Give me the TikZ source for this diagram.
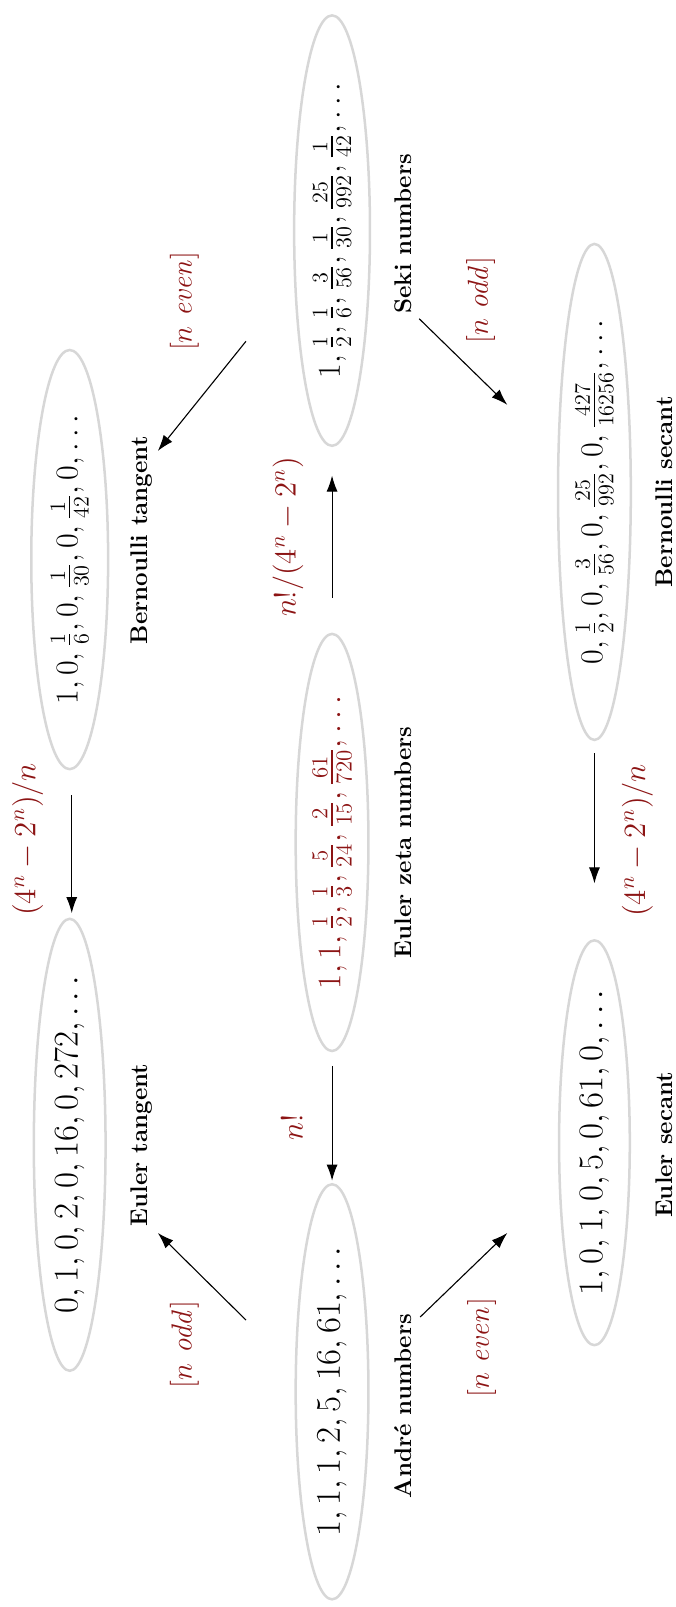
\documentclass[tikz,border=0pt]{standalone}
\usepackage{amsmath}
\usetikzlibrary{arrows.meta}
\definecolor{lblred}{RGB}{140,20,20}
\definecolor{ellgray}{RGB}{215,215,215}
\begin{document}
\begin{tikzpicture}[x=0.51pt,y=-0.51pt,
  seqtxt/.style={rotate=90, inner sep=0pt, font=\LARGE},
  ell/.style={draw=ellgray, line width=1.25pt},
  seqname/.style={rotate=90, inner sep=0pt, font=\large\bfseries},
  elab/.style={rotate=90, inner sep=0pt, text=lblred, font=\Large},
  conn/.style={-{Latex[length=8pt,width=5.5pt]}, line width=0.55pt}]
\useasboundingbox (0,0) rectangle (659,1568);

% sequences
\node[seqtxt, scale=0.92] (BT) at (68,546) {$1,0,\frac16,0,\frac1{30},0,\frac1{42},0,\ldots$};
\draw[ell] (BT.center) ellipse [x radius=37.5, y radius=204.5];
\node[seqtxt] (ET) at (68,1117) {$0,1,0,2,0,16,0,272,\ldots$};
\draw[ell] (ET.center) ellipse [x radius=35, y radius=220.5];
\node[seqtxt, scale=0.92] (SK) at (324,225) {$1,\frac12,\frac16,\frac3{56},\frac1{30},\frac{25}{992},\frac1{42},\ldots$};
\draw[ell] (SK.center) ellipse [x radius=37, y radius=210];
\node[seqtxt, scale=0.95, text=lblred] (EZ) at (324,822) {$1,1,\frac12,\frac13,\frac5{24},\frac2{15},\frac{61}{720},\ldots$};
\draw[ell] (EZ.center) ellipse [x radius=35.5, y radius=203.5];
\node[seqtxt] (AN) at (324,1358) {$1,1,1,2,5,16,61,\ldots$};
\draw[ell] (AN.center) ellipse [x radius=35.5, y radius=202.5];
\node[seqtxt, scale=0.92] (BS) at (580,480) {$0,\frac12,0,\frac3{56},0,\frac{25}{992},0,\frac{427}{16256},\ldots$};
\draw[ell] (BS.center) ellipse [x radius=35.5, y radius=242];
\node[seqtxt] (ES) at (580,1115) {$1,0,1,0,5,0,61,0,\ldots$};
\draw[ell] (ES.center) ellipse [x radius=34.5, y radius=197.5];

% names
\node[seqname] (nBT) at (138,527) {Bernoulli tangent};
\node[seqname] (nET) at (138,1117) {Euler tangent};
\node[seqname] (nSK) at (393,228) {Seki numbers};
\node[seqname] (nEZ) at (393,822) {Euler zeta numbers};
\node[seqname] (nAN) at (393,1372) {Andr\'e numbers};
\node[seqname] (nBS) at (648,480) {Bernoulli secant};
\node[seqname] (nES) at (648,1117) {Euler secant};

% arrow end points
\coordinate (a1s) at (70,776);   \coordinate (a1e) at (70,891);
\coordinate (a2s) at (324,583);  \coordinate (a2e) at (324,464);
\coordinate (a3s) at (324,1040); \coordinate (a3e) at (324,1152);
\coordinate (a4s) at (580,735);  \coordinate (a4e) at (580,862);
\coordinate (a5s) at (240,333);  \coordinate (a5e) at (154,440);
\coordinate (a6s) at (409,311);  \coordinate (a6e) at (495,395);
\coordinate (a7s) at (240,1288); \coordinate (a7e) at (154,1203);
\coordinate (a8s) at (410,1285); \coordinate (a8e) at (495,1203);

\draw[conn] (a1s) -- (a1e);
\draw[conn] (a2s) -- (a2e);
\draw[conn] (a3s) -- (a3e);
\draw[conn] (a4s) -- (a4e);
\draw[conn] (a5s) -- (a5e);
\draw[conn] (a6s) -- (a6e);
\draw[conn] (a7s) -- (a7e);
\draw[conn] (a8s) -- (a8e);

% edge labels
\node[elab, scale=1.07] (l1) at (27,819) {$(4^n-2^n)/n$};
\node[elab, scale=1.06] (l2) at (281,524) {$n!/(4^n-2^n)$};
\node[elab, scale=1.06] (l3) at (285,1100) {$n!$};
\node[elab, scale=1.07] (l4) at (622,820) {$(4^n-2^n)/n$};
\node[elab] (l5) at (180,294) {$[n\ \mathit{even}]$};
\node[elab] (l6) at (469,293) {$[n\ \mathit{odd}]$};
\node[elab] (l7) at (180,1312) {$[n\ \mathit{odd}]$};
\node[elab] (l8) at (470,1315) {$[n\ \mathit{even}]$};
\end{tikzpicture}
\end{document}
